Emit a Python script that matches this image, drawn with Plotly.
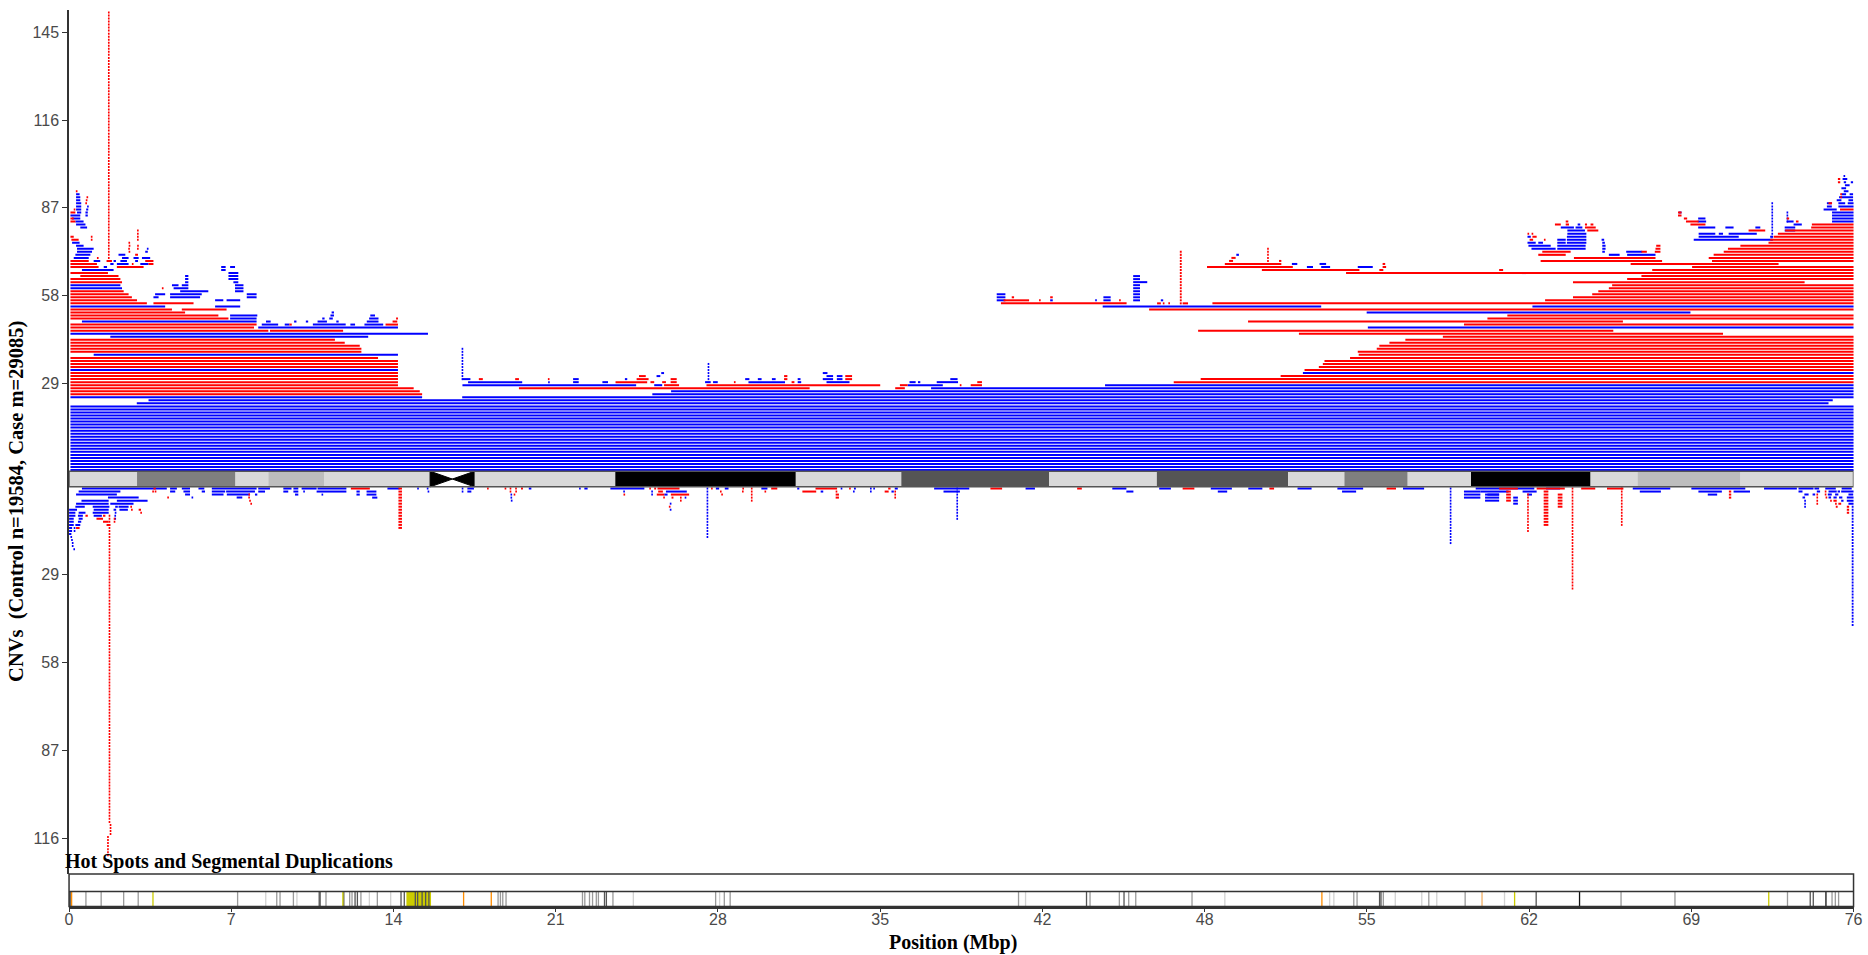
import plotly.graph_objects as go

# ---------------------------------------------------------------- data
CHROM_LEN = 76.117          # chr18 length (Mbp)
GAP = 5.1                   # vertical room taken by the ideogram (count units)

# cytobands: (start, end, stain)
BANDS = [
    (0.0, 2.9, "gneg"), (2.9, 7.1, "gpos50"), (7.1, 8.5, "gneg"),
    (8.5, 10.9, "gpos25"), (10.9, 15.4, "gneg"), (15.4, 17.3, "acen"),
    (17.3, 23.3, "gneg"), (23.3, 31.0, "gpos100"), (31.0, 35.5, "gneg"),
    (35.5, 41.8, "gpos75"), (41.8, 46.4, "gneg"), (46.4, 52.0, "gpos75"),
    (52.0, 54.4, "gneg"), (54.4, 57.1, "gpos50"), (57.1, 59.8, "gneg"),
    (59.8, 64.9, "gpos100"), (64.9, 66.9, "gneg"), (66.9, 71.3, "gpos25"),
    (71.3, 76.117, "gneg"),
]

Y_TICKS_UP = [29, 58, 87, 116, 145]
Y_TICKS_DOWN = [29, 58, 87, 116]

# CNV segments: (first_row, last_row, start_mbp, end_mbp)
CASE_DUP = [
    (0, 21, 0.06, 76.15), (22, 22, 2.89, 75.05), (23, 23, 3.39, 75.23),
    (24, 24, 0.06, 15.06), (24, 24, 16.77, 76.15), (25, 25, 24.88, 76.15),
    (26, 26, 25.68, 76.15), (27, 27, 36.77, 76.15),
    (28, 28, 16.78, 24.19), (28, 28, 24.96, 25.3), (28, 28, 35.77, 37.27), (28, 28, 44.19, 76.15),
    (33, 33, 0.06, 14.03), (38, 38, 1.05, 14.03), (44, 44, 1.76, 12.76), (45, 45, 0.06, 15.31),
    (47, 47, 8.07, 14.03), (49, 49, 0.55, 8.0), (50, 50, 6.87, 8.0), (51, 51, 6.87, 8.03),
    (48, 48, 8.22, 8.92), (48, 48, 9.2, 9.4), (48, 48, 10.4, 11.8), (48, 48, 12.0, 12.2), (48, 48, 12.6, 13.4),
    (49, 49, 8.4, 8.6), (49, 49, 9.6, 9.7), (49, 49, 10.1, 10.2), (49, 49, 10.6, 11.0), (49, 49, 11.4, 11.5), (49, 49, 12.7, 13.2),
    (50, 50, 10.8, 10.9), (50, 50, 11.1, 11.25), (50, 50, 12.8, 13.2), (51, 51, 11.15, 11.3), (51, 51, 12.85, 13.05), (52, 52, 11.2, 11.3),
    (54, 54, 0.06, 4.1), (54, 54, 6.23, 7.3), (56, 56, 6.23, 6.58), (56, 56, 6.72, 7.3),
    (57, 57, 3.6, 3.82), (57, 57, 4.31, 5.59), (57, 57, 7.58, 8.0),
    (58, 58, 3.67, 4.1), (58, 58, 4.31, 5.66), (58, 58, 7.58, 8.0),
    (59, 59, 4.74, 5.94), (59, 59, 7.08, 7.44),
    (60, 60, 0.06, 2.26), (60, 60, 4.46, 5.09), (60, 60, 7.08, 7.44),
    (61, 61, 0.06, 2.19), (61, 61, 4.39, 4.67), (61, 61, 4.81, 5.09), (61, 61, 7.08, 7.44),
    (62, 62, 4.95, 5.09), (62, 62, 7.01, 7.22), (63, 64, 4.95, 5.09), (63, 65, 6.8, 7.22),
    (66, 66, 0.55, 1.9), (66, 67, 6.49, 6.68), (67, 67, 1.48, 1.62), (67, 67, 6.87, 7.08),
    (68, 68, 1.76, 1.9), (68, 68, 2.04, 2.54), (68, 68, 3.04, 3.39),
    (69, 69, 1.05, 1.33), (69, 69, 1.9, 2.0), (69, 69, 2.19, 2.47), (69, 69, 2.82, 2.94),
    (70, 70, 0.2, 0.84), (70, 70, 2.26, 2.54), (70, 70, 2.75, 2.97), (70, 70, 3.11, 3.46),
    (71, 71, 0.27, 0.91), (71, 71, 2.11, 2.4), (72, 72, 0.34, 0.98), (72, 72, 3.25, 3.36),
    (73, 73, 0.34, 1.05), (73, 73, 3.32, 3.39), (74, 74, 0.3, 0.62), (75, 75, 0.13, 0.45),
    (80, 80, 0.48, 0.77), (81, 81, 0.3, 0.7), (82, 82, 0.27, 0.62), (83, 83, 0.13, 0.48),
    (84, 84, 0.06, 0.48), (84, 85, 0.7, 0.8), (85, 85, 0.34, 0.52), (86, 86, 0.3, 0.52),
    (86, 86, 0.73, 0.82), (87, 87, 0.3, 0.52), (87, 87, 0.77, 0.84), (88, 88, 0.3, 0.52),
    (89, 90, 0.3, 0.48), (91, 91, 0.3, 0.45),
    (29, 29, 17.02, 19.33), (29, 29, 20.44, 20.5), (29, 29, 21.5, 21.74), (29, 29, 22.75, 22.99),
    (29, 29, 27.13, 27.37), (29, 29, 27.47, 27.67), (29, 29, 28.98, 30.54), (29, 29, 31.08, 31.23),
    (29, 29, 32.31, 33.29), (29, 29, 35.85, 36.11), (29, 29, 36.21, 36.31), (29, 29, 37.01, 37.92),
    (30, 30, 16.78, 17.12), (30, 30, 21.5, 21.74), (30, 30, 23.71, 23.81), (30, 30, 28.84, 29.02),
    (30, 30, 29.38, 29.54), (30, 30, 29.98, 30.14), (30, 30, 31.08, 31.2), (30, 30, 32.15, 32.59),
    (30, 30, 32.75, 32.99), (30, 30, 37.59, 37.9), (31, 31, 25.06, 25.22), (31, 31, 32.31, 32.59),
    (31, 31, 32.75, 32.99), (32, 32, 25.26, 25.38), (32, 32, 32.15, 32.35),
    (30, 40, 16.75, 16.81), (30, 35, 27.25, 27.3),
    (32, 32, 52.63, 76.15), (47, 47, 55.4, 76.15), (52, 52, 55.35, 69.16),
    (54, 54, 44.09, 53.41), (54, 54, 62.42, 76.15),
    (56, 58, 39.57, 39.94), (56, 56, 41.85, 41.96), (56, 56, 43.78, 43.83), (56, 57, 44.12, 44.43),
    (56, 64, 45.39, 45.68), (56, 56, 46.57, 46.67), (62, 62, 45.68, 45.99),
    (67, 67, 52.8, 53.06), (67, 67, 53.41, 53.79), (67, 67, 54.97, 55.61),
    (68, 68, 52.16, 52.39), (68, 68, 53.34, 53.62), (71, 71, 49.79, 49.9),
    (65, 65, 61.96, 62.16), (71, 71, 65.68, 66.14), (71, 71, 66.46, 67.67),
    (72, 72, 65.4, 65.51), (72, 72, 66.42, 67.1),
    (73, 73, 62.38, 63.41), (73, 73, 63.48, 64.69), (73, 73, 65.4, 65.54),
    (74, 74, 62.25, 63.2), (74, 74, 63.48, 64.69), (74, 74, 65.4, 65.54),
    (75, 75, 62.21, 62.56), (75, 75, 62.67, 62.87), (75, 75, 63.48, 63.84), (75, 75, 63.89, 64.72), (75, 75, 65.4, 65.51),
    (76, 76, 63.48, 63.84), (76, 76, 63.89, 64.72), (76, 76, 65.37, 65.48), (76, 76, 69.3, 72.64),
    (77, 77, 62.21, 62.35), (77, 77, 63.89, 64.72), (77, 77, 69.51, 71.22), (77, 77, 72.56, 72.66),
    (78, 78, 63.91, 64.72), (78, 78, 69.51, 70.22), (78, 78, 70.37, 70.55), (78, 78, 70.79, 71.99),
    (79, 79, 63.91, 64.66), (79, 79, 73.18, 73.63),
    (80, 80, 63.63, 64.19), (80, 80, 64.26, 64.55), (80, 80, 69.49, 70.22), (80, 80, 70.65, 71.0),
    (80, 80, 71.93, 72.14), (80, 80, 73.18, 73.63), (81, 81, 64.35, 64.46), (81, 81, 73.56, 73.91),
    (82, 82, 69.47, 69.83), (82, 82, 73.27, 73.56), (83, 83, 69.49, 69.8), (85, 85, 68.66, 68.78),
    (76, 88, 72.62, 72.68), (82, 85, 73.27, 73.32),
    (82, 85, 75.2, 76.15), (86, 86, 74.84, 75.4), (87, 87, 74.98, 75.19), (87, 87, 75.47, 76.15),
    (88, 88, 74.98, 75.19), (88, 88, 75.47, 75.76), (88, 88, 75.87, 76.15),
    (89, 89, 75.4, 75.6), (89, 89, 75.9, 76.1), (90, 90, 75.5, 76.1), (91, 91, 75.6, 75.8),
    (91, 91, 75.95, 76.1), (92, 92, 75.7, 75.9), (93, 93, 75.6, 75.8), (94, 94, 75.75, 75.95),
    (95, 95, 75.7, 75.8), (95, 95, 76.0, 76.1), (96, 96, 75.65, 75.85), (97, 97, 75.7, 75.75),
]

CASE_DEL = [
    (25, 25, 0.06, 15.06), (26, 26, 0.06, 14.96), (27, 27, 0.06, 14.70),
    (28, 32, 0.06, 14.03), (34, 36, 0.06, 14.03), (37, 37, 0.06, 13.18),
    (39, 40, 0.06, 12.47), (41, 41, 0.06, 12.40), (42, 42, 0.06, 11.76), (43, 43, 0.06, 11.34),
    (46, 46, 0.06, 8.5), (46, 46, 8.57, 11.69), (47, 47, 0.06, 7.89), (48, 48, 0.06, 8.0),
    (48, 48, 13.5, 14.03), (49, 49, 13.8, 14.0), (50, 50, 13.95, 14.03), (48, 48, 9.4, 9.5),
    (50, 50, 0.06, 6.8), (51, 51, 0.06, 6.37), (52, 52, 0.06, 4.95),
    (53, 53, 0.06, 4.39), (53, 53, 4.81, 6.72), (55, 55, 0.06, 3.32), (55, 55, 3.6, 5.31),
    (56, 56, 0.06, 2.9), (57, 57, 0.06, 2.68), (58, 58, 0.06, 2.54), (59, 59, 0.06, 2.33),
    (60, 60, 3.96, 4.03), (62, 62, 0.06, 2.26), (63, 63, 0.06, 2.19), (64, 64, 0.48, 2.11),
    (65, 65, 0.06, 1.66), (67, 67, 0.06, 1.26), (67, 67, 2.04, 3.18),
    (68, 68, 0.06, 1.19), (68, 68, 2.68, 2.75), (68, 68, 3.39, 3.6),
    (69, 69, 0.06, 0.84), (69, 69, 1.6, 1.83), (69, 69, 3.25, 3.6), (70, 70, 1.19, 1.26),
    (71, 71, 2.82, 2.94), (72, 72, 2.54, 2.61), (73, 73, 2.54, 2.58), (73, 73, 2.9, 2.97),
    (74, 74, 2.56, 2.6), (74, 74, 2.92, 2.96), (75, 75, 2.54, 2.6),
    (76, 76, 0.1, 0.41), (76, 77, 0.95, 0.98), (76, 79, 2.9, 2.97), (77, 77, 0.06, 0.2),
    (82, 82, 0.06, 0.27), (83, 83, 0.06, 0.2), (85, 85, 0.06, 0.27), (86, 86, 0.2, 0.27),
    (88, 88, 0.7, 0.76), (89, 89, 0.73, 0.77), (90, 90, 0.76, 0.8), (92, 92, 0.3, 0.35),
    (70, 151, 1.66, 1.73),
    (27, 27, 19.19, 31.59), (27, 27, 35.24, 35.65),
    (28, 28, 25.38, 26.02), (28, 28, 27.19, 34.6), (28, 28, 35.44, 35.77), (28, 28, 38.0, 38.06), (28, 28, 38.46, 38.94),
    (29, 29, 23.31, 24.66), (29, 29, 24.8, 24.96), (29, 29, 25.3, 25.46), (29, 29, 25.66, 25.92),
    (29, 29, 28.37, 28.42), (29, 29, 30.82, 30.94), (29, 29, 38.74, 38.94),
    (30, 30, 17.48, 17.65), (30, 30, 19.03, 19.19), (30, 30, 20.44, 20.48), (30, 30, 24.21, 24.72),
    (30, 30, 25.66, 25.92), (30, 30, 30.5, 30.64), (30, 30, 33.11, 33.4),
    (31, 31, 24.31, 24.6), (31, 31, 30.5, 30.64), (31, 31, 33.11, 33.4),
    (29, 29, 47.12, 76.15), (30, 30, 48.27, 76.15), (31, 31, 51.68, 76.15), (33, 33, 52.7, 76.15),
    (34, 34, 53.31, 76.15), (35, 35, 53.48, 76.15), (36, 36, 53.55, 76.15), (37, 37, 54.64, 76.15),
    (38, 38, 55.01, 76.15), (39, 39, 54.97, 76.15), (40, 40, 55.78, 76.15), (41, 41, 55.89, 76.15),
    (42, 42, 56.32, 76.15), (43, 43, 57.0, 76.15), (44, 44, 58.6, 76.15), (45, 45, 52.46, 70.55),
    (46, 46, 48.16, 65.87), (48, 48, 59.5, 76.15), (49, 49, 50.29, 66.28), (50, 50, 60.5, 76.15),
    (51, 51, 61.35, 76.15), (53, 53, 46.07, 76.15),
    (55, 55, 39.75, 45.11), (55, 55, 46.41, 46.57), (55, 55, 46.67, 46.71), (55, 55, 46.9, 46.95),
    (55, 55, 47.5, 47.73), (55, 55, 48.77, 76.15),
    (56, 56, 39.86, 40.95), (56, 56, 41.39, 41.43), (56, 56, 44.8, 44.85), (56, 56, 62.96, 76.15),
    (57, 57, 40.21, 40.31), (57, 57, 41.85, 41.96), (57, 57, 64.15, 76.15),
    (58, 58, 64.97, 76.15), (59, 59, 65.23, 76.15), (60, 60, 65.68, 76.15), (61, 61, 65.82, 76.15),
    (62, 62, 64.15, 74.03), (63, 63, 66.46, 76.15), (64, 64, 67.07, 76.15), (65, 65, 54.47, 76.15),
    (66, 66, 50.88, 55.04), (66, 66, 55.89, 56.06), (66, 66, 61.0, 61.17), (66, 66, 67.53, 76.15),
    (67, 67, 48.54, 52.2), (67, 67, 56.03, 56.18), (67, 67, 69.23, 76.15),
    (68, 68, 49.3, 51.71), (68, 68, 56.03, 56.14), (68, 68, 66.61, 72.92),
    (69, 69, 49.48, 49.65), (69, 69, 51.61, 51.71), (69, 69, 62.77, 67.95), (69, 69, 70.08, 76.15),
    (70, 70, 49.58, 49.76), (70, 70, 64.19, 67.67), (70, 70, 69.94, 76.15),
    (71, 71, 62.67, 63.84), (71, 71, 70.15, 76.15),
    (72, 72, 62.84, 64.05), (72, 72, 67.07, 67.3), (72, 72, 67.64, 67.88), (72, 72, 70.58, 76.15),
    (73, 73, 67.67, 67.88), (73, 73, 70.76, 76.15), (74, 74, 67.7, 67.88), (74, 74, 71.29, 76.15),
    (75, 75, 72.49, 76.15), (76, 76, 62.3, 62.45), (76, 76, 62.91, 62.98), (76, 76, 72.56, 76.15),
    (77, 77, 62.42, 62.6), (77, 77, 72.71, 76.15), (78, 78, 62.21, 62.28), (78, 78, 62.39, 62.45),
    (78, 78, 72.89, 76.15), (79, 79, 64.76, 65.23), (79, 79, 71.64, 72.35), (79, 79, 73.2, 76.15),
    (80, 80, 64.66, 65.12), (80, 80, 74.31, 76.15),
    (81, 81, 63.38, 63.63), (81, 81, 63.84, 63.98), (81, 81, 64.66, 64.75), (81, 81, 64.9, 65.02),
    (81, 81, 69.16, 69.8), (81, 81, 74.34, 76.15),
    (82, 82, 63.84, 63.95), (82, 82, 68.97, 69.51), (82, 82, 73.66, 73.77),
    (83, 83, 68.88, 69.02), (83, 83, 73.27, 73.37), (84, 85, 68.63, 68.78), (86, 86, 75.54, 76.15),
    (55, 72, 47.38, 47.46), (69, 73, 51.11, 51.17),
    (88, 88, 75.05, 75.2), (90, 91, 75.55, 75.62), (95, 96, 75.45, 75.55),
]

CTRL_DUP = [
    (0, 0, 0.55, 4.17), (0, 0, 4.31, 4.6), (0, 0, 4.81, 5.16), (0, 0, 5.52, 5.77), (0, 0, 6.09, 8.0),
    (0, 0, 8.07, 8.57), (0, 0, 9.14, 9.49), (0, 0, 9.57, 9.78), (0, 0, 9.92, 10.56), (0, 0, 10.6, 11.83),
    (0, 0, 13.58, 14.1), (0, 0, 14.86, 14.91), (0, 0, 15.28, 15.31),
    (1, 1, 0.41, 2.19), (1, 1, 4.31, 4.53), (1, 1, 4.88, 5.16), (1, 1, 5.66, 5.8), (1, 1, 6.09, 6.66),
    (1, 1, 6.7, 7.93), (1, 1, 8.07, 8.36), (1, 1, 9.14, 9.35), (1, 1, 9.57, 9.78), (1, 1, 9.99, 10.06),
    (1, 1, 10.56, 11.83), (1, 1, 12.26, 12.4), (1, 1, 12.69, 13.11),
    (2, 2, 0.3, 2.04), (2, 2, 4.95, 5.16), (2, 2, 6.09, 6.59), (2, 2, 6.73, 7.72), (2, 2, 7.93, 8.03),
    (2, 2, 9.64, 9.78), (2, 2, 10.77, 10.84), (2, 2, 12.26, 12.4), (2, 2, 12.69, 13.11),
    (3, 3, 1.66, 2.97), (3, 3, 5.24, 5.28), (3, 3, 7.15, 7.39), (3, 3, 12.93, 13.15),
    (4, 4, 0.53, 1.69), (4, 4, 2.04, 3.35), (5, 5, 0.3, 1.69), (5, 5, 1.76, 2.75),
    (6, 6, 0.27, 0.67), (6, 6, 1.01, 1.72), (6, 6, 1.97, 2.08), (6, 6, 2.11, 2.54),
    (7, 7, 0.0, 0.34), (7, 7, 1.05, 1.69), (7, 7, 1.9, 2.01), (7, 7, 2.15, 2.51),
    (8, 8, 0.0, 0.27), (8, 8, 0.41, 0.7), (8, 8, 1.01, 1.69), (8, 8, 1.97, 2.0),
    (9, 9, 0.0, 0.27), (9, 9, 0.38, 0.59), (9, 9, 1.05, 1.4), (9, 10, 1.95, 1.99),
    (10, 10, 0.0, 0.2), (10, 10, 0.41, 0.58), (11, 11, 0.0, 0.2), (11, 11, 0.38, 0.52),
    (12, 12, 0.0, 0.2), (12, 12, 0.27, 0.48), (13, 14, 0.0, 0.13), (13, 14, 0.2, 0.27),
    (15, 15, 0.0, 0.1), (16, 16, 0.06, 0.13), (17, 17, 0.1, 0.15), (18, 19, 0.13, 0.18), (20, 20, 0.2, 0.24),
    (0, 0, 16.77, 16.8), (0, 0, 16.99, 17.27), (0, 0, 19.61, 19.72), (0, 0, 21.77, 21.81),
    (0, 0, 21.98, 22.12), (0, 0, 23.09, 24.54), (0, 0, 27.59, 27.73), (0, 0, 27.97, 28.13),
    (0, 0, 29.53, 29.79), (0, 0, 31.06, 31.15), (0, 0, 32.93, 32.97), (0, 0, 33.48, 33.56),
    (0, 0, 34.18, 34.22), (0, 0, 34.32, 34.36), (0, 0, 35.22, 35.35),
    (1, 1, 15.31, 15.35), (1, 1, 16.77, 16.8), (1, 1, 16.99, 17.16), (1, 1, 23.64, 23.71),
    (1, 1, 24.85, 24.89), (1, 1, 25.46, 26.35), (1, 1, 32.06, 32.17), (1, 1, 33.45, 33.5),
    (1, 1, 34.18, 34.22), (1, 1, 35.08, 35.18),
    (2, 3, 18.83, 18.9), (2, 2, 24.85, 24.89), (2, 2, 25.39, 25.53), (3, 3, 26.27, 26.32),
    (4, 4, 18.86, 18.9), (5, 5, 25.64, 25.68), (7, 7, 25.64, 25.68), (0, 16, 27.2, 27.26),
    (0, 0, 36.9, 38.4), (0, 0, 40.8, 41.2), (0, 0, 44.5, 45.1), (0, 0, 46.5, 47.0), (0, 0, 48.7, 49.6),
    (0, 0, 50.3, 50.9), (0, 0, 52.4, 53.0), (0, 0, 54.1, 55.2), (0, 0, 56.9, 57.8), (0, 0, 60.0, 62.5),
    (0, 0, 63.0, 63.6), (0, 0, 66.7, 68.3), (0, 0, 69.2, 71.5), (0, 0, 72.3, 73.7),
    (1, 1, 37.3, 38.0), (1, 1, 45.1, 45.4), (1, 1, 49.0, 49.4), (1, 1, 54.3, 54.9), (1, 1, 60.2, 61.4),
    (1, 1, 62.0, 62.6), (1, 1, 67.0, 67.9), (1, 1, 69.5, 70.5), (1, 1, 71.0, 71.7),
    (2, 2, 60.5, 61.0), (2, 2, 62.2, 62.4), (2, 2, 69.9, 70.3), (0, 10, 37.85, 37.92), (0, 18, 58.9, 58.96),
    (1, 3, 59.5, 60.2), (2, 4, 60.4, 61.0), (3, 5, 61.6, 61.8),
    (0, 0, 73.77, 74.41), (0, 0, 74.45, 74.65), (0, 0, 74.91, 75.36), (0, 0, 75.61, 76.04),
    (1, 1, 73.77, 73.94), (1, 1, 74.55, 74.69), (1, 1, 75.05, 75.4), (1, 1, 75.44, 75.54), (1, 1, 75.59, 76.15),
    (2, 2, 74.02, 74.2), (2, 2, 74.37, 74.48), (2, 2, 75.02, 75.19), (2, 2, 75.33, 75.47), (2, 2, 75.9, 76.11),
    (3, 3, 73.94, 74.05), (3, 3, 75.05, 75.16), (3, 3, 75.26, 75.4), (3, 3, 75.5, 75.64), (3, 3, 75.83, 76.15),
    (4, 4, 74.02, 74.08), (4, 4, 75.59, 75.69), (4, 4, 75.83, 76.15), (5, 6, 74.02, 74.08),
    (5, 5, 75.9, 76.15), (6, 45, 76.04, 76.15),
]

CTRL_DEL = [
    (0, 0, 3.6, 3.7), (0, 0, 12.02, 12.83), (1, 1, 3.55, 3.62), (1, 1, 3.66, 3.72), (2, 2, 7.65, 7.72),
    (3, 3, 4.2, 4.25), (3, 3, 7.66, 7.7), (4, 4, 7.7, 7.74), (5, 5, 7.75, 7.79), (6, 6, 2.63, 2.67),
    (7, 7, 2.66, 2.7), (7, 7, 2.97, 3.07), (8, 8, 3.04, 3.11), (9, 9, 0.7, 0.8), (9, 9, 1.45, 1.55),
    (10, 10, 1.17, 1.45), (10, 11, 1.92, 1.96), (11, 11, 1.45, 1.69), (12, 12, 1.6, 1.76), (13, 13, 0.3, 0.45),
    (0, 13, 14.05, 14.2), (9, 110, 1.69, 1.76), (111, 114, 1.74, 1.8), (115, 121, 1.63, 1.69),
    (0, 0, 17.84, 17.89), (0, 0, 18.58, 18.65), (0, 0, 18.8, 18.86), (0, 0, 19.03, 19.1), (0, 0, 19.28, 19.36),
    (0, 0, 24.75, 24.82), (0, 0, 24.96, 25.04), (0, 0, 25.1, 26.04), (0, 0, 27.4, 27.44), (0, 0, 28.72, 28.79),
    (0, 0, 29.1, 29.14), (0, 0, 29.95, 30.21), (0, 0, 31.84, 32.76), (0, 0, 33.29, 33.33), (0, 0, 34.94, 35.04),
    (1, 1, 18.8, 18.86), (1, 1, 19.04, 19.1), (1, 1, 25.13, 25.33), (1, 1, 27.77, 27.83), (1, 1, 28.72, 28.76),
    (1, 1, 29.1, 29.14), (1, 1, 29.68, 29.72), (1, 1, 31.28, 31.87), (1, 1, 32.7, 32.77), (1, 1, 34.79, 34.96),
    (1, 1, 35.22, 35.26), (2, 2, 18.97, 19.03), (2, 2, 23.66, 23.71), (2, 2, 25.07, 25.39), (2, 2, 25.67, 26.45),
    (2, 2, 27.83, 27.88), (2, 2, 29.1, 29.14), (2, 3, 32.7, 32.84), (2, 3, 35.22, 35.26),
    (3, 3, 25.36, 25.4), (3, 3, 25.7, 25.78), (3, 4, 26.07, 26.12), (3, 4, 29.1, 29.14), (6, 6, 25.6, 25.64),
    (0, 0, 39.3, 39.8), (0, 0, 43.0, 43.2), (0, 0, 47.5, 48.0), (0, 0, 51.2, 51.4), (0, 0, 56.2, 56.6),
    (0, 0, 61.0, 61.8), (0, 0, 62.6, 63.8), (0, 0, 64.5, 65.1), (0, 0, 65.6, 66.3),
    (1, 4, 61.3, 61.5), (1, 12, 62.9, 63.1), (2, 6, 63.5, 63.7), (2, 14, 62.2, 62.26),
    (0, 33, 64.1, 64.16), (0, 12, 66.2, 66.26), (1, 3, 70.8, 70.9),
    (1, 1, 74.91, 74.94), (2, 2, 74.55, 74.59), (2, 2, 74.91, 74.94), (3, 5, 74.55, 74.59),
    (3, 3, 74.94, 74.98), (4, 4, 75.12, 75.19), (4, 4, 75.26, 75.4), (5, 5, 75.33, 75.4),
    (5, 5, 75.47, 75.59), (6, 6, 75.36, 75.44), (6, 8, 75.83, 75.93),
]

# hot spots / segmental duplications: (position_mbp, kind)
HOTSPOTS = [
    (0.04, "black"), (0.11, "orange"), (0.72, "mid"), (1.37, "mid"), (2.33, "mid"), (2.95, "mid"),
    (3.58, "yellow"), (7.19, "mid"), (8.39, "light"), (8.86, "mid"), (9.0, "mid"), (9.57, "mid"),
    (9.72, "light"), (10.67, "dark"), (10.71, "dark"), (10.96, "mid"), (11.68, "yellow"), (11.72, "dark"),
    (11.97, "mid"), (12.07, "mid"), (12.2, "dark"), (12.3, "dark"), (12.45, "mid"), (12.81, "light"),
    (13.15, "mid"), (13.72, "light"), (14.16, "dark"), (14.3, "dark"), (14.77, "dark"), (14.87, "dark"),
    (15.06, "dark"), (15.21, "dark"), (15.35, "dark"), (16.83, "orange"), (18.01, "orange"),
    (18.3, "mid"), (18.4, "mid"), (18.5, "mid"), (18.64, "mid"), (21.9, "mid"), (22.0, "mid"),
    (22.2, "mid"), (22.33, "mid"), (22.49, "mid"), (22.58, "mid"), (22.84, "dark"), (22.92, "dark"),
    (23.2, "mid"), (24.07, "light"), (27.58, "mid"), (27.75, "light"), (27.95, "mid"), (28.2, "mid"),
    (40.5, "mid"), (40.8, "light"), (43.4, "dark"), (43.55, "mid"), (44.8, "mid"), (45.0, "dark"),
    (45.2, "mid"), (45.5, "mid"), (47.9, "mid"), (49.3, "light"),
    (53.44, "orange"), (53.77, "light"), (53.95, "light"), (54.8, "mid"), (54.94, "mid"),
    (55.9, "dark"), (55.96, "dark"), (56.06, "mid"), (56.57, "light"), (57.7, "light"), (58.0, "mid"),
    (58.34, "light"), (59.55, "mid"), (60.27, "peach"), (61.23, "light"), (61.66, "yellow"),
    (62.58, "dark"), (64.43, "black"), (66.2, "mid"), (68.5, "mid"), (72.5, "yellow"), (73.3, "mid"),
    (74.27, "dark"), (74.4, "dark"), (74.94, "black"), (75.2, "mid"), (75.34, "mid"), (75.48, "mid"),
]
HOTSPOT_BLOCKS = [(14.39, 15.44, "yellow")]

# ---------------------------------------------------------------- styling
DEL_COLOR = "rgb(255,0,0)"
DUP_COLOR = "rgb(0,0,255)"
STAIN_COLORS = {"gneg": "#d9d9d9", "gpos25": "#bdbdbd", "gpos50": "#7f7f7f",
                "gpos75": "#555555", "gpos100": "#000000"}
HOT_COLORS = {"black": "#111111", "dark": "#555555", "mid": "#9a9a9a", "light": "#d2d2d2",
              "yellow": "#cccc00", "orange": "#ff8c00", "peach": "#f2b066"}

W, H = 1868, 955
PX_LEFT, PX_RIGHT = 65.5, 1862.5
PX_TOP, PX_MAIN_BOTTOM = 10, 874
PX_HOT_MID, PX_HOT_BOTTOM = 891.5, 906.5
Y_TOP, Y_BOTTOM = 152.3, -132.8
MIN_W = 0.07


def row_y(row, upper):
    return row + 0.5 if upper else -(GAP + row + 0.5)


def segment_xy(data, upper):
    xs, ys = [], []
    for r0, r1, s, e in data:
        if e - s < MIN_W:
            m = (s + e) / 2
            s, e = m - MIN_W / 2, m + MIN_W / 2
        for r in range(r0, r1 + 1):
            y = row_y(r, upper)
            xs += [s, e, None]
            ys += [y, y, None]
    return xs, ys


fig = go.Figure()
for data, upper, color, name in [
    (CASE_DUP, True, DUP_COLOR, "case dup"), (CASE_DEL, True, DEL_COLOR, "case del"),
    (CTRL_DUP, False, DUP_COLOR, "control dup"), (CTRL_DEL, False, DEL_COLOR, "control del"),
]:
    xs, ys = segment_xy(data, upper)
    fig.add_trace(go.Scatter(x=xs, y=ys, mode="lines", name=name, hoverinfo="skip",
                             line=dict(color=color, width=2), showlegend=False))

# hot-spot ticks on the bottom strip
for kind, col in HOT_COLORS.items():
    hx, hy = [], []
    for pos, k in HOTSPOTS:
        if k == kind:
            hx += [pos, pos, None]
            hy += [0, 1, None]
    if hx:
        fig.add_trace(go.Scatter(x=hx, y=hy, xaxis="x", yaxis="y2", mode="lines",
                                 hoverinfo="skip", showlegend=False,
                                 line=dict(color=col, width=1.3)))

shapes = []
for s, e, kind in HOTSPOT_BLOCKS:
    shapes.append(dict(type="rect", xref="x", yref="y2", x0=s, x1=e, y0=0, y1=1,
                       fillcolor=HOT_COLORS[kind], line=dict(width=0), layer="below"))

# ideogram
ideo_top, ideo_bot = 0.1, -GAP + 0.05
for s, e, stain in BANDS:
    if stain == "acen":
        mid = (s + e) / 2
        ym = (ideo_top + ideo_bot) / 2
        shapes.append(dict(type="path", xref="x", yref="y",
                           path=f"M {s},{ideo_top} L {mid},{ym} L {s},{ideo_bot} Z "
                                f"M {e},{ideo_top} L {mid},{ym} L {e},{ideo_bot} Z",
                           fillcolor="#000000", line=dict(color="#000000", width=1)))
    else:
        shapes.append(dict(type="rect", xref="x", yref="y", x0=s, x1=e, y0=ideo_bot, y1=ideo_top,
                           fillcolor=STAIN_COLORS[stain], line=dict(width=0)))
shapes.append(dict(type="rect", xref="x", yref="y", x0=0, x1=CHROM_LEN, y0=ideo_bot, y1=ideo_top,
                   fillcolor="rgba(0,0,0,0)", line=dict(color="#555555", width=1.5)))

# frame of the hot-spot strip
fx0, fx1 = PX_LEFT / W, PX_RIGHT / W
shapes.append(dict(type="rect", xref="paper", yref="paper", x0=fx0, x1=fx1,
                   y0=1 - PX_HOT_BOTTOM / H, y1=1 - PX_MAIN_BOTTOM / H,
                   line=dict(color="#333333", width=1.5), fillcolor="rgba(0,0,0,0)"))
shapes.append(dict(type="line", xref="paper", yref="paper", x0=fx0, x1=fx1,
                   y0=1 - PX_HOT_MID / H, y1=1 - PX_HOT_MID / H,
                   line=dict(color="#333333", width=1.5)))

tick_vals = [CHROM_LEN * i / 11 for i in range(12)]
tick_text = [str(round(v)) for v in tick_vals]

y_vals = [v for v in Y_TICKS_UP] + [-(GAP + v) for v in Y_TICKS_DOWN]
y_text = [str(v) for v in Y_TICKS_UP] + [str(v) for v in Y_TICKS_DOWN]

tick_font = dict(family="Liberation Sans Narrow, Arial Narrow, sans-serif", size=16, color="#4a4a4a")
title_font = dict(family="Liberation Serif, Times New Roman, serif", size=20.5, color="#000000")

fig.update_layout(
    width=W, height=H, autosize=False,
    margin=dict(l=0, r=0, t=0, b=0),
    paper_bgcolor="white", plot_bgcolor="white",
    showlegend=False,
    shapes=shapes,
    xaxis=dict(domain=[fx0, fx1], range=[0, CHROM_LEN], anchor="y2",
               showgrid=False, zeroline=False, showline=True, linecolor="#333333", linewidth=1.5,
               ticks="outside", ticklen=4, tickcolor="#333333", tickwidth=1, ticklabelstandoff=-6,
               ticklabeloverflow="allow",
               tickvals=tick_vals, ticktext=tick_text, tickfont=tick_font),
    yaxis=dict(domain=[1 - PX_MAIN_BOTTOM / H, 1 - PX_TOP / H], range=[Y_BOTTOM, Y_TOP],
               anchor="x", showgrid=False, zeroline=False, showline=True,
               linecolor="#333333", linewidth=1.5, ticks="outside", ticklen=5,
               tickcolor="#333333", tickvals=y_vals, ticktext=y_text, tickfont=tick_font),
    yaxis2=dict(domain=[1 - PX_HOT_BOTTOM / H, 1 - PX_HOT_MID / H], range=[0, 1],
                anchor="x", visible=False),
    annotations=[
        dict(text="<b>CNVs\u00a0\u00a0(Control n=19584, Case m=29085)</b>", xref="paper", yref="paper",
             x=13 / W, y=1 - 501 / H, textangle=-90, showarrow=False,
             xanchor="center", yanchor="middle", font=title_font),
        dict(text="<b>Hot Spots and Segmental Duplications</b>", xref="paper", yref="paper",
             x=59 / W, y=1 - 861 / H, showarrow=False, xanchor="left", yanchor="middle",
             font=dict(title_font, size=20)),
        dict(text="<b>Position (Mbp)</b>", xref="paper", yref="paper",
             x=956 / W, y=1 - 942 / H, showarrow=False, xanchor="center", yanchor="middle",
             font=dict(title_font, size=20)),
    ],
)

fig.write_html(
    "out.html",
    config={"responsive": False, "displayModeBar": False},
    post_script="document.documentElement.style.overflow='hidden';"
                "document.body.style.overflow='hidden';document.body.style.margin='0';",
)
